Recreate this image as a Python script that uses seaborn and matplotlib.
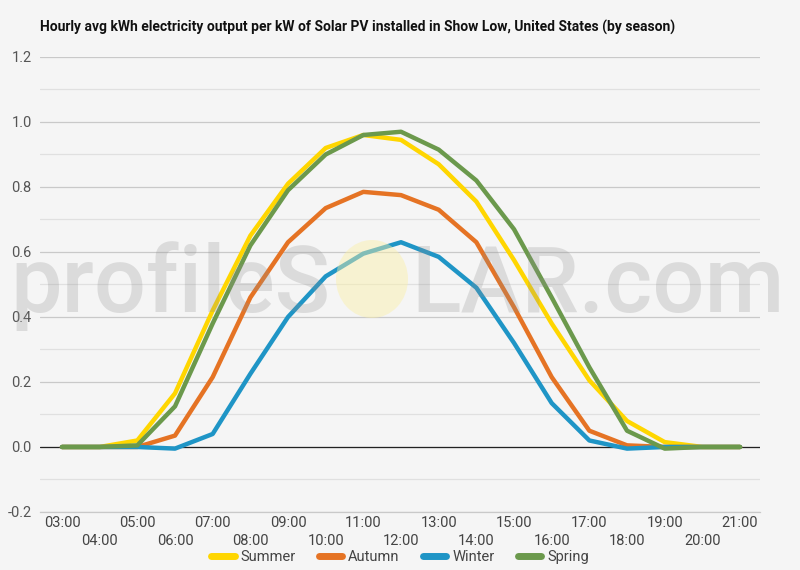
import numpy as np
import pandas as pd
import matplotlib
matplotlib.use("Agg")
import matplotlib.pyplot as plt
from matplotlib.patches import Ellipse
from matplotlib.ticker import MultipleLocator
import seaborn as sns

# ---------------------------------------------------------
# Data
# ---------------------------------------------------------
hour_labels = ["03:00", "04:00", "05:00", "06:00", "07:00", "08:00", "09:00",
               "10:00", "11:00", "12:00", "13:00", "14:00", "15:00", "16:00",
               "17:00", "18:00", "19:00", "20:00", "21:00"]

summer = [0, 0, 0.02, 0.165, 0.42, 0.65, 0.81, 0.92, 0.96, 0.945, 0.87,
          0.755, 0.575, 0.38, 0.205, 0.08, 0.015, 0, 0]
autumn = [0, 0, 0, 0.035, 0.215, 0.46, 0.63, 0.735, 0.785, 0.775, 0.73,
          0.63, 0.43, 0.215, 0.05, 0.005, 0, 0, 0]
winter = [0, 0, 0, -0.005, 0.04, 0.225, 0.40, 0.525, 0.595, 0.63, 0.585,
          0.49, 0.32, 0.135, 0.02, -0.005, 0, 0, 0]
spring = [0, 0, 0.005, 0.125, 0.38, 0.62, 0.79, 0.90, 0.96, 0.97, 0.915,
          0.82, 0.67, 0.46, 0.245, 0.05, -0.005, 0, 0]

seasons = ["Summer", "Autumn", "Winter", "Spring"]
colors = {"Summer": "#ffd600", "Autumn": "#e57324", "Winter": "#1f95c6", "Spring": "#6b994c"}

title = "Hourly avg kWh electricity output per kW of Solar PV installed in Show Low, United States (by season)"

x = np.arange(len(hour_labels))
df = pd.concat([
    pd.DataFrame({"x": x, "kWh": vals, "Season": name})
    for name, vals in zip(seasons, [summer, autumn, winter, spring])
])

# ---------------------------------------------------------
# Style
# ---------------------------------------------------------
sns.set_style("white")
plt.rcParams["font.family"] = ["Roboto", "DejaVu Sans"]
bg = "#f5f5f5"

fig = plt.figure(figsize=(8, 5.7), dpi=100, facecolor=bg)
ax = fig.add_axes([0.05, 0.1018, 0.90, 0.7982])
ax.set_facecolor(bg)

sns.lineplot(data=df, x="x", y="kWh", hue="Season", hue_order=seasons,
             palette=colors, linewidth=3.2, ax=ax, legend=True,
             solid_capstyle="round", solid_joinstyle="round", zorder=3)

# axes limits / grid
ax.set_xlim(-0.584, 18.53)
ax.set_ylim(-0.2, 1.2)
ax.yaxis.set_major_locator(MultipleLocator(0.2))
ax.yaxis.set_minor_locator(MultipleLocator(0.1))
ax.grid(which="major", axis="y", color="#c9c9c9", linewidth=0.9)
ax.grid(which="minor", axis="y", color="#e0e0e0", linewidth=0.9)
ax.grid(False, axis="x")
ax.axhline(0, color="#222222", linewidth=0.9, zorder=2)
ax.set_yticklabels([f"{v:.1f}" for v in ax.get_yticks()])
ax.tick_params(axis="y", which="both", length=0, pad=6, labelsize=10.5, labelcolor="#555555")

for s in ["top", "right", "left"]:
    ax.spines[s].set_visible(False)
ax.spines["bottom"].set_color("#c9c9c9")
ax.spines["bottom"].set_linewidth(0.9)

# two rows of hour labels
ax.set_xticks(x[::2])
ax.set_xticklabels(hour_labels[::2])
ax.set_xticks(x[1::2], minor=True)
ax.set_xticklabels(hour_labels[1::2], minor=True)
ax.tick_params(axis="x", which="major", length=0, pad=3, labelsize=10.5, labelcolor="#444444")
ax.tick_params(axis="x", which="minor", length=0, pad=16, labelsize=10.5, labelcolor="#444444")
ax.set_xlabel("")
ax.set_ylabel("")

# legend at bottom
handles, labels = ax.get_legend_handles_labels()
ax.get_legend().remove()
leg = fig.legend(handles, labels, loc="center", bbox_to_anchor=(0.5, 0.022), ncol=4,
                 frameon=False, fontsize=10.5, handlelength=1.6, handletextpad=0.4,
                 columnspacing=1.6)
for h in leg.get_lines():
    h.set_linewidth(5)
for t in leg.get_texts():
    t.set_color("#444444")

# title
fig.text(0.05, 1 - 27 / 570, title, ha="left", va="center",
         fontsize=10, fontweight="bold", color="#111111")

# watermark
wm_y = 1 - 312 / 570
fig.text(330 / 800, wm_y, "profileS", ha="right", va="baseline", fontsize=66,
         color="#8f8f8f", alpha=0.25, fontweight="medium")
fig.text(411 / 800, wm_y, "LAR.com", ha="left", va="baseline", fontsize=66,
         color="#8f8f8f", alpha=0.25, fontweight="medium")
fig.patches.append(Ellipse((372 / 800, 1 - 279 / 570), 72 / 800, 78 / 570,
                           transform=fig.transFigure, facecolor="#fbf0a6",
                           alpha=0.45, edgecolor="none", zorder=4))

fig.savefig("out.png", dpi=100, facecolor=bg)
